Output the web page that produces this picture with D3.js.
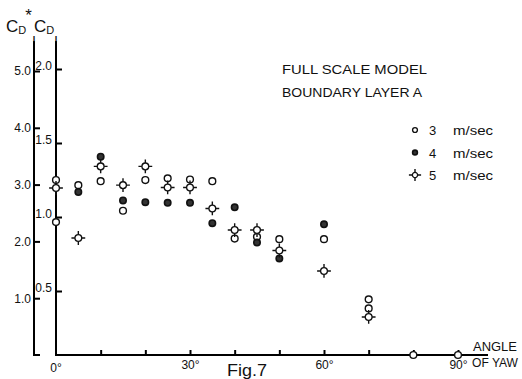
<!DOCTYPE html>
<html lang="en">
<head>
<meta charset="UTF-8">
<title>Fig.7</title>
<script src="https://d3js.org/d3.v7.min.js"></script>
<style>
  body { margin: 0; background: #fff; }
  text { font-family: "Liberation Sans", Arial, sans-serif; fill: #111; }
</style>
</head>
<body>
<script>
// angle of yaw (deg) and C_DI*
const angles3 = [0, 0, 5, 10, 15, 20, 25, 30, 35, 40, 45, 50, 60, 70, 70, 80, 90];
const values3 = [3.08, 2.34, 2.99, 3.06, 2.54, 3.08, 3.11, 3.09, 3.06, 2.05, 2.08, 2.04, 2.04, 0.98, 0.82, 0, 0];
const angles4 = [5, 10, 15, 20, 25, 30, 35, 40, 45, 50, 60];
const values4 = [2.87, 3.49, 2.72, 2.69, 2.68, 2.68, 2.32, 2.60, 1.98, 1.70, 2.30];
const angles5 = [0, 5, 10, 15, 20, 25, 30, 35, 40, 45, 50, 60, 70];
const values5 = [2.94, 2.06, 3.32, 2.99, 3.32, 2.95, 2.95, 2.58, 2.20, 2.20, 1.84, 1.48, 0.67];
const leftTicks = [1, 2, 3, 4, 5];
const rightTicks = [0.5, 1.0, 1.5, 2.0];
const xTicks = [10, 20, 30, 40, 50, 60, 70, 80, 90];
const legendLabels = ["3", "4", "5"];

const width = 522, height = 379;
const svg = d3.select("body").append("svg")
    .attr("width", width)
    .attr("height", height);

const x = d3.scaleLinear().domain([0, 90]).range([56, 458]);
const yL = d3.scaleLinear().domain([0, 5]).range([355, 71]);
const yR = d3.scaleLinear().domain([0.5, 2.0]).range([291, 69]);
const axL = 34, axR = 56, base = 355;

// axis lines
svg.append("path").attr("d", `M${axL},41V${base}H${axL + 6}`)
    .attr("fill", "none").attr("stroke", "#000").attr("stroke-width", 2);
svg.append("path").attr("d", `M${axR},41V${base}H488`)
    .attr("fill", "none").attr("stroke", "#000").attr("stroke-width", 2);

// left axis C_DI*
const gl = svg.append("g").attr("transform", `translate(${axL},0)`)
    .call(d3.axisLeft(yL).tickValues(leftTicks).tickSizeInner(-6).tickSizeOuter(0)
        .tickPadding(3).tickFormat(d3.format(".1f")));
gl.select(".domain").remove();

// right axis C_DI
const gr = svg.append("g").attr("transform", `translate(${axR},0)`)
    .call(d3.axisLeft(yR).tickValues(rightTicks).tickSizeInner(-6).tickSizeOuter(0)
        .tickPadding(4).tickFormat(d3.format(".1f")));
gr.select(".domain").remove();
gr.selectAll(".tick text").attr("dy", "0.05em");

// x axis
const gx = svg.append("g").attr("transform", `translate(0,${base})`)
    .call(d3.axisBottom(x).tickValues(xTicks).tickSizeInner(-5).tickSizeOuter(0)
        .tickPadding(5).tickFormat(d => d % 30 === 0 ? d + "°" : ""));
gx.select(".domain").remove();
gx.append("text").attr("x", x(0)).attr("y", 8).attr("dy", "0.71em")
    .attr("text-anchor", "middle").text("0°");

svg.selectAll(".tick line").attr("stroke", "#000").attr("stroke-width", 2);
svg.selectAll("g text").attr("font-size", 12)
    .attr("font-family", "Liberation Sans, Arial, sans-serif").attr("fill", "#111");

// axis titles
function cdLabel(x0, star) {
  const t = svg.append("text").attr("x", x0).attr("y", 32).attr("font-size", 17);
  t.append("tspan").text("C");
  t.append("tspan").attr("font-size", 11).attr("dy", 2).text("D");
  if (star) t.append("tspan").attr("font-size", 17).attr("dy", -13).attr("dx", -1).text("*");
}
cdLabel(6, true);
cdLabel(34, false);
[axL, axR].forEach(ax => svg.append("text").attr("x", ax).attr("y", 42)
    .attr("text-anchor", "middle").attr("font-size", 9).attr("font-weight", "bold").text("I"));

svg.append("text").attr("x", 473).attr("y", 351).attr("font-size", 12)
    .attr("textLength", 44).attr("lengthAdjust", "spacingAndGlyphs").text("ANGLE");
svg.append("text").attr("x", 472).attr("y", 367).attr("font-size", 12)
    .attr("textLength", 46).attr("lengthAdjust", "spacingAndGlyphs").text("OF YAW");
svg.append("text").attr("x", 227).attr("y", 376).attr("font-size", 16)
    .attr("textLength", 40).attr("lengthAdjust", "spacingAndGlyphs").text("Fig.7");

svg.append("text").attr("x", 282).attr("y", 74).attr("font-size", 13)
    .attr("textLength", 145).attr("lengthAdjust", "spacingAndGlyphs").text("FULL SCALE MODEL");
svg.append("text").attr("x", 282).attr("y", 97).attr("font-size", 13)
    .attr("textLength", 140).attr("lengthAdjust", "spacingAndGlyphs").text("BOUNDARY LAYER  A");

// markers
function openCircle(g, r) {
  g.append("circle").attr("r", r).attr("fill", "#fff").attr("stroke", "#111").attr("stroke-width", 1.4);
}
function filledCircle(g, r) {
  g.append("circle").attr("r", r).attr("fill", "#333").attr("stroke", "#111").attr("stroke-width", 1.6);
}
function starMark(g, r) {
  const a = r + 3.5;
  g.append("path").attr("d", `M${-a},0H${-r}M${r},0H${a}M0,${-a}V${-r}M0,${r}V${a}`)
      .attr("stroke", "#111").attr("stroke-width", 1.4);
  g.append("circle").attr("r", r).attr("fill", "#fff").attr("stroke", "#111").attr("stroke-width", 1.3);
}

function plot(angles, values, draw, r) {
  svg.append("g").selectAll("g")
    .data(angles.map((a, i) => [a, values[i]]))
    .join("g")
    .attr("transform", d => `translate(${x(d[0])},${yL(d[1])})`)
    .each(function () { draw(d3.select(this), r); });
}
plot(angles3, values3, openCircle, 3.4);
plot(angles4, values4, filledCircle, 3.2);
plot(angles5, values5, starMark, 3.4);

// legend
const drawers = [openCircle, filledCircle, starMark];
legendLabels.forEach((lab, i) => {
  const yy = 130 + i * 22.5;
  const g = svg.append("g").attr("transform", `translate(415,${yy})`);
  drawers[i](g, i === 2 ? 2.6 : 2.4);
  svg.append("text").attr("x", 429).attr("y", yy + 5).attr("font-size", 13).text(lab);
  svg.append("text").attr("x", 453).attr("y", yy + 5).attr("font-size", 13)
      .attr("textLength", 40).attr("lengthAdjust", "spacingAndGlyphs").text("m/sec");
});
</script>
</body>
</html>
